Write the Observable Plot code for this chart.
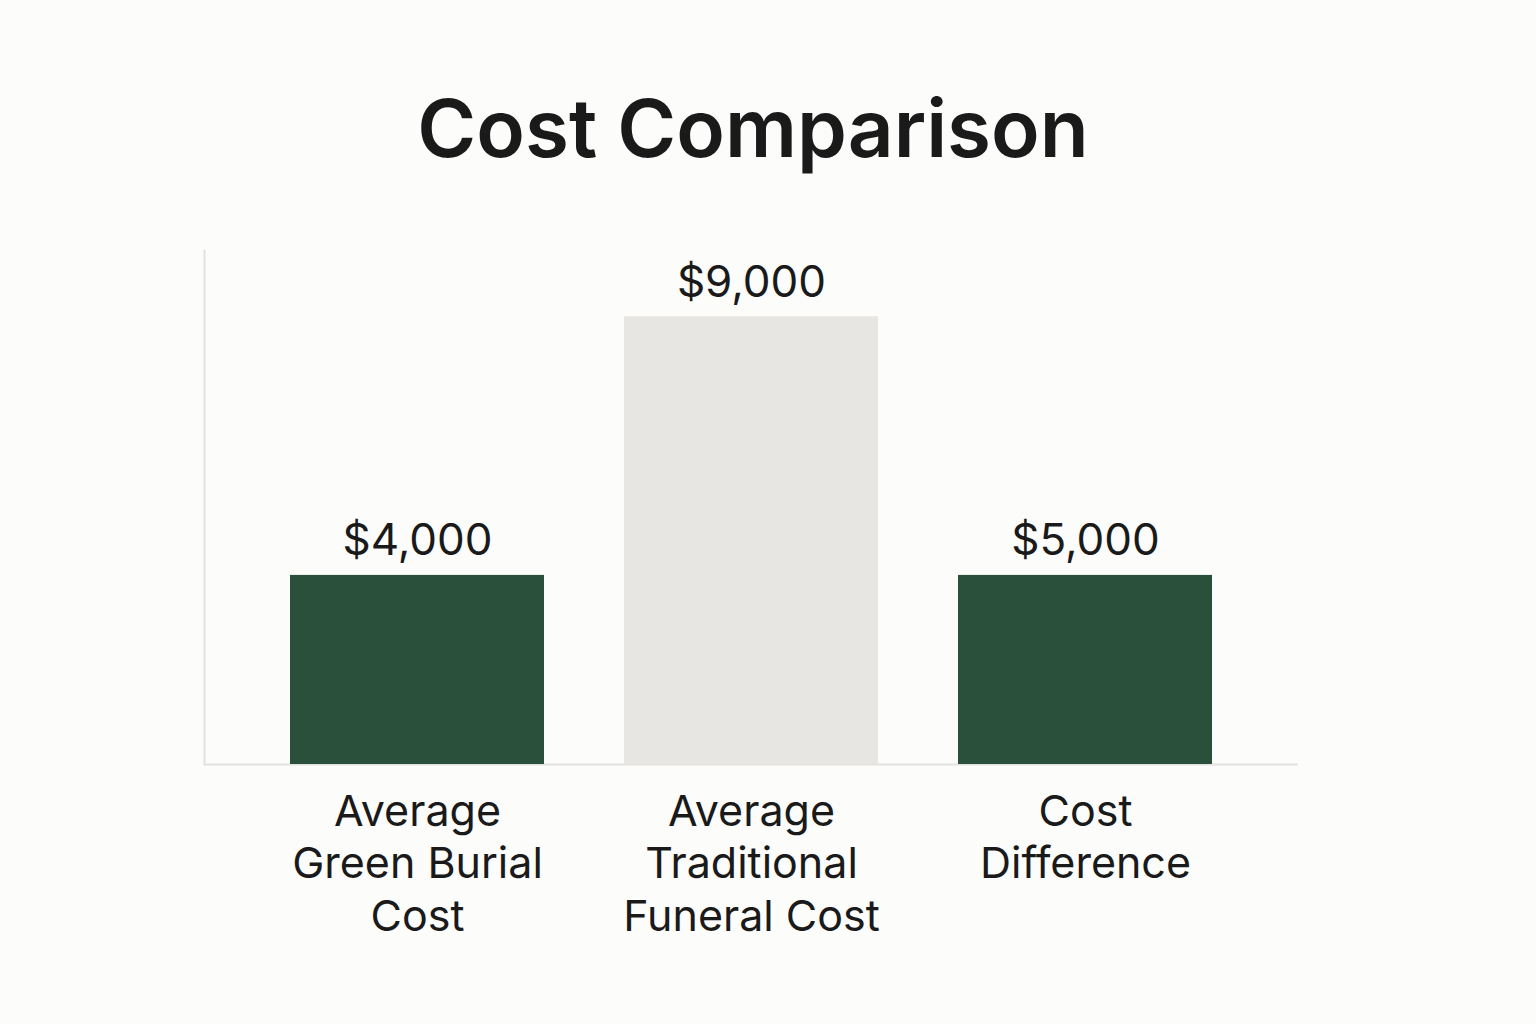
<!DOCTYPE html>
<html>
<head>
<meta charset="utf-8">
<script src="https://cdn.jsdelivr.net/npm/d3@7"></script>
<script src="https://cdn.jsdelivr.net/npm/@observablehq/plot@0.6"></script>
<style>
  html, body { margin: 0; padding: 0; background: #fcfcfa; width: 1536px; height: 1024px; overflow: hidden; }
  #wrap { position: relative; width: 1536px; height: 1024px; }
  #title { position: absolute; left: 0; width: 1506px; top: 88px; text-align: center;
    font-family: Inter, sans-serif; font-weight: 600; font-size: 80px; line-height: 80px; color: #1a1a1a; }
  #chart { position: absolute; left: 0; top: 200px; }
</style>
</head>
<body>
<div id="wrap">
  <div id="title">Cost Comparison</div>
  <div id="chart"></div>
</div>
<script>
const categories = ["Average\nGreen Burial\nCost", "Average\nTraditional\nFuneral Cost", "Cost\nDifference"];
const costs = [4000, 9000, 5000];           // labelled values
const drawnHeights = [3800, 9000, 3800];    // bar lengths as drawn in the picture
const barColors = ["#2a503c", "#e8e6e3", "#2a503c"];
const labels = costs.map(v => "$" + d3.format(",")(v));

const data = categories.map((c, i) => ({cat: c, h: drawnHeights[i], label: labels[i], color: barColors[i]}));

const chart = Plot.plot({
  width: 1536,
  height: 824,
  marginLeft: 204,
  marginRight: 238,
  marginTop: 50,
  marginBottom: 260,
  style: {background: "transparent", fontFamily: "Inter, sans-serif"},
  x: {domain: categories, paddingInner: 0.24, paddingOuter: 0.255, axis: null},
  y: {domain: [0, 10330], axis: null},
  marks: [
    Plot.frame({anchor: "left", stroke: "#e2e2e0", strokeWidth: 2}),
    Plot.ruleY([0], {stroke: "#e2e2e0", strokeWidth: 2}),
    Plot.barY(data, {x: "cat", y: "h", fill: "color"}),
    Plot.text(data, {x: "cat", y: "h", text: "label", lineAnchor: "bottom", dy: -20,
      fontSize: 44, fill: "#1a1a1a"}),
    Plot.text(data, {x: "cat", text: "cat", frameAnchor: "bottom", lineAnchor: "top", dy: 25,
      fontSize: 43, lineHeight: 1.21, fill: "#1a1a1a"})
  ]
});
document.getElementById("chart").appendChild(chart);
</script>
</body>
</html>
